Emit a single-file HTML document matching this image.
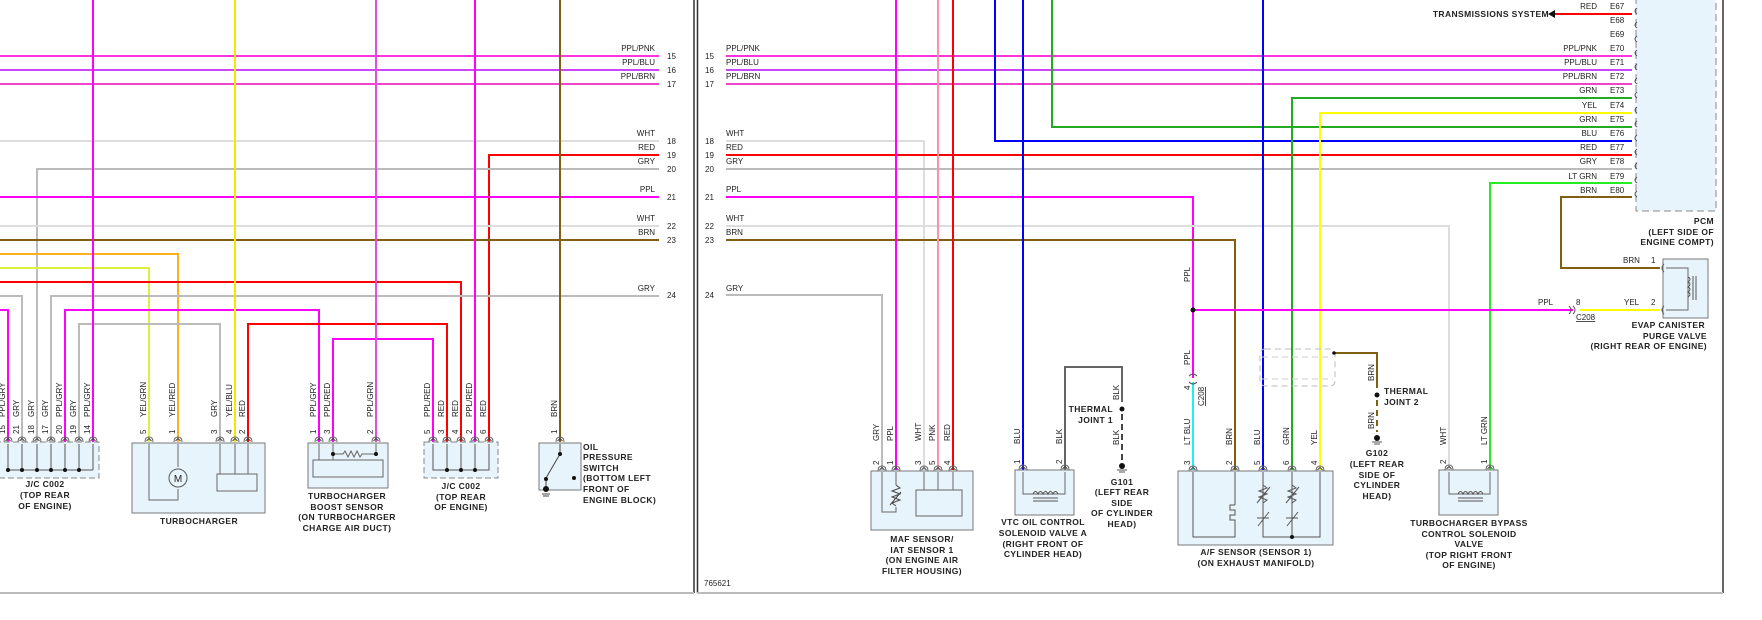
<!DOCTYPE html>
<html><head><meta charset="utf-8"><style>
html,body{margin:0;padding:0;background:#fff}
svg{display:block}
text{font-family:"Liberation Sans",sans-serif;fill:#222}
.s{font-size:8px}
.b{font-size:8.5px;font-weight:bold;letter-spacing:.4px}
</style></head><body>
<svg width="1762" height="620" viewBox="0 0 1762 620" xmlns="http://www.w3.org/2000/svg">
<defs>
<g id="pin"><path d="M-4,5 Q-4,0 0,0 Q4,0 4,5" fill="none" stroke="#666" stroke-width="1"/><path d="M-2.5,4 L0,1.5 L2.5,4" fill="none" stroke="#444" stroke-width="1"/></g>
</defs>
<line x1="694" y1="0" x2="694" y2="593" stroke="#333" stroke-width="1.5"/>
<line x1="697.5" y1="0" x2="697.5" y2="593" stroke="#333" stroke-width="1.5"/>
<line x1="1723" y1="0" x2="1723" y2="593" stroke="#333" stroke-width="1.5"/>
<line x1="697" y1="593" x2="1723" y2="593" stroke="#bbb" stroke-width="2"/>
<line x1="0" y1="593" x2="694" y2="593" stroke="#bbb" stroke-width="2"/>
<text class="s" x="704" y="586">765621</text>

<g fill="none" stroke-width="2">
<line x1="0" y1="56" x2="659" y2="56" stroke="#ff33dd"/>
<line x1="0" y1="70" x2="659" y2="70" stroke="#cc44ff"/>
<line x1="0" y1="84" x2="659" y2="84" stroke="#ee44cc"/>
<line x1="0" y1="141" x2="659" y2="141" stroke="#ddd"/>
<polyline points="489,442 489,155 659,155" stroke="#f00"/>
<polyline points="37,442 37,169 659,169" stroke="#bbb"/>
<line x1="0" y1="197" x2="659" y2="197" stroke="#f0f"/>
<line x1="0" y1="226" x2="659" y2="226" stroke="#ddd"/>
<line x1="0" y1="240" x2="659" y2="240" stroke="#806010"/>
<polyline points="0,254 178,254 178,442" stroke="#ffb020"/>
<polyline points="0,268 149,268 149,442" stroke="#ddf040"/>
<polyline points="0,282 461,282 461,442" stroke="#f00"/>
<polyline points="0,296 22,296 22,442" stroke="#bbb"/>
<polyline points="51,442 51,296 659,296" stroke="#bbb"/>
<polyline points="0,310 8,310 8,442" stroke="#f0f"/>
<polyline points="65,442 65,310 319,310 319,442" stroke="#f0f"/>
<polyline points="79,442 79,324 220,324 220,442" stroke="#bbb"/>
<polyline points="248,442 248,324 447,324 447,442" stroke="#f00"/>
<polyline points="333,442 333,339 433,339 433,442" stroke="#f0f"/>
<line x1="93" y1="0" x2="93" y2="442" stroke="#f0f"/>
<line x1="235" y1="0" x2="235" y2="442" stroke="#f4e800"/>
<line x1="376" y1="0" x2="376" y2="442" stroke="#e050e0"/>
<line x1="475" y1="0" x2="475" y2="442" stroke="#f0f"/>
<line x1="560" y1="0" x2="560" y2="442" stroke="#806010"/>

<line x1="726" y1="56" x2="1632" y2="56" stroke="#ff33dd"/>
<line x1="726" y1="70" x2="1632" y2="70" stroke="#cc44ff"/>
<line x1="726" y1="84" x2="1632" y2="84" stroke="#ee44cc"/>
<polyline points="726,141 924,141 924,470" stroke="#ddd"/>
<line x1="726" y1="155" x2="1632" y2="155" stroke="#f00"/>
<line x1="726" y1="169" x2="1632" y2="169" stroke="#bbb"/>
<polyline points="726,197 1193,197 1193,378" stroke="#f0f"/>
<polyline points="726,226 1449,226 1449,470" stroke="#ddd"/>
<polyline points="726,240 1235,240 1235,470" stroke="#806010"/>
<polyline points="726,295 882,295 882,470" stroke="#bbb"/>
<line x1="896" y1="0" x2="896" y2="470" stroke="#f0f"/>
<line x1="938" y1="0" x2="938" y2="470" stroke="#ff90a8"/>
<line x1="953" y1="0" x2="953" y2="470" stroke="#f00"/>
<polyline points="995,0 995,141 1632,141" stroke="#00f"/>
<line x1="1023" y1="0" x2="1023" y2="470" stroke="#00f"/>
<polyline points="1052,0 1052,127 1632,127" stroke="#2a2"/>
<line x1="1263" y1="0" x2="1263" y2="470" stroke="#00f"/>
<polyline points="1632,98 1292,98 1292,470" stroke="#2a2"/>
<polyline points="1632,113 1320,113 1320,470" stroke="#ff0"/>
<polyline points="1632,183 1490,183 1490,470" stroke="#2e2"/>
<polyline points="1632,197 1561,197 1561,268 1660,268" stroke="#806010"/>
<line x1="1554" y1="14" x2="1632" y2="14" stroke="#f00"/>
<line x1="1193" y1="310" x2="1573" y2="310" stroke="#f0f"/>
<line x1="1580" y1="310" x2="1660" y2="310" stroke="#ff0"/>
<line x1="1193" y1="382" x2="1193" y2="470" stroke="#2ee"/>
<polyline points="1334,353 1377,353 1377,388" stroke="#806010"/>
<polyline points="1065,470 1065,367 1122,367 1122,402" stroke="#666"/>
<line x1="1122" y1="414" x2="1122" y2="460" stroke="#444" stroke-dasharray="6,4"/>
<line x1="1377" y1="400" x2="1377" y2="432" stroke="#806010" stroke-dasharray="6,4"/>
</g>
<path d="M1548,14 L1555,10 L1555,18 Z" fill="#111"/>

<g class="s" text-anchor="end">
<text x="655" y="51">PPL/PNK</text><text x="655" y="65">PPL/BLU</text><text x="655" y="79">PPL/BRN</text>
<text x="655" y="136">WHT</text><text x="655" y="150">RED</text><text x="655" y="164">GRY</text>
<text x="655" y="192">PPL</text><text x="655" y="221">WHT</text><text x="655" y="235">BRN</text><text x="655" y="291">GRY</text>
</g>
<g class="s">
<text x="667" y="59">15</text><text x="667" y="73">16</text><text x="667" y="87">17</text><text x="667" y="144">18</text><text x="667" y="158">19</text><text x="667" y="172">20</text><text x="667" y="200">21</text><text x="667" y="229">22</text><text x="667" y="243">23</text><text x="667" y="298">24</text>
<text x="705" y="59">15</text><text x="705" y="73">16</text><text x="705" y="87">17</text><text x="705" y="144">18</text><text x="705" y="158">19</text><text x="705" y="172">20</text><text x="705" y="200">21</text><text x="705" y="229">22</text><text x="705" y="243">23</text><text x="705" y="298">24</text>
<text x="726" y="51">PPL/PNK</text><text x="726" y="65">PPL/BLU</text><text x="726" y="79">PPL/BRN</text>
<text x="726" y="136">WHT</text><text x="726" y="150">RED</text><text x="726" y="164">GRY</text>
<text x="726" y="192">PPL</text><text x="726" y="221">WHT</text><text x="726" y="235">BRN</text><text x="726" y="291">GRY</text>
</g>

<rect x="1636" y="-5" width="80" height="216" fill="#e8f4fb" stroke="#888" stroke-dasharray="7,4"/>
<g class="s" text-anchor="end">
<text x="1597" y="9">RED</text><text x="1597" y="51">PPL/PNK</text><text x="1597" y="65">PPL/BLU</text><text x="1597" y="79">PPL/BRN</text>
<text x="1597" y="93">GRN</text><text x="1597" y="108">YEL</text><text x="1597" y="122">GRN</text><text x="1597" y="136">BLU</text>
<text x="1597" y="150">RED</text><text x="1597" y="164">GRY</text><text x="1597" y="179">LT GRN</text><text x="1597" y="193">BRN</text>
</g>
<g class="s">
<text x="1610" y="9">E67</text><text x="1610" y="23">E68</text><text x="1610" y="37">E69</text><text x="1610" y="51">E70</text><text x="1610" y="65">E71</text><text x="1610" y="79">E72</text><text x="1610" y="93">E73</text><text x="1610" y="108">E74</text><text x="1610" y="122">E75</text><text x="1610" y="136">E76</text><text x="1610" y="150">E77</text><text x="1610" y="164">E78</text><text x="1610" y="179">E79</text><text x="1610" y="193">E80</text>
</g>
<g fill="none" stroke="#555" stroke-width="1">
<path d="M1637,8 q-4,3 0,6"/><path d="M1637,22 q-4,3 0,6"/><path d="M1637,36 q-4,3 0,6"/><path d="M1637,50 q-4,3 0,6"/><path d="M1637,64 q-4,3 0,6"/><path d="M1637,78 q-4,3 0,6"/><path d="M1637,92 q-4,3 0,6"/><path d="M1637,107 q-4,3 0,6"/><path d="M1637,121 q-4,3 0,6"/><path d="M1637,135 q-4,3 0,6"/><path d="M1637,149 q-4,3 0,6"/><path d="M1637,163 q-4,3 0,6"/><path d="M1637,177 q-4,3 0,6"/><path d="M1637,191 q-4,3 0,6"/>
</g>
<g class="b" text-anchor="end"><text x="1714" y="224">PCM</text><text x="1714" y="235">(LEFT SIDE OF</text><text x="1714" y="245">ENGINE COMPT)</text>
<text x="1549" y="17">TRANSMISSIONS SYSTEM</text></g>

<rect x="1663" y="259" width="45" height="59" fill="#e8f4fb" stroke="#777"/>
<polyline points="1666,268 1688,268 1688,310 1666,310" fill="none" stroke="#666"/>
<path d="M1688,277 q4,2 0,5 q4,2 0,5 q4,2 0,5 q4,2 0,5" fill="none" stroke="#555"/>
<line x1="1693" y1="276" x2="1693" y2="300" stroke="#555"/><line x1="1696" y1="276" x2="1696" y2="300" stroke="#555"/>
<path d="M1664,264 q-4,4 0,8 M1664,306 q-4,4 0,8 M1569,306 q4,4 0,8 M1573,306 q4,4 0,8" fill="none" stroke="#555"/>
<g class="s"><text x="1623" y="263">BRN</text><text x="1651" y="263">1</text><text x="1624" y="305">YEL</text><text x="1651" y="305">2</text>
<text x="1538" y="305">PPL</text><text x="1576" y="305">8</text><text x="1576" y="320" text-decoration="underline">C208</text></g>
<g class="b" text-anchor="end"><text x="1705" y="328">EVAP CANISTER</text><text x="1707" y="339">PURGE VALVE</text><text x="1707" y="349">(RIGHT REAR OF ENGINE)</text></g>

<rect x="-5" y="442" width="104" height="36" fill="#e8f4fb" stroke="#888" stroke-dasharray="6,3"/>
<g fill="none" stroke="#555"><polyline points="8,444 8,470 93,470"/><line x1="22" y1="444" x2="22" y2="470"/><line x1="37" y1="444" x2="37" y2="470"/><line x1="51" y1="444" x2="51" y2="470"/><line x1="65" y1="444" x2="65" y2="470"/><line x1="79" y1="444" x2="79" y2="470"/><line x1="93" y1="444" x2="93" y2="470"/></g>
<g fill="#111"><circle cx="8" cy="470" r="2"/><circle cx="22" cy="470" r="2"/><circle cx="37" cy="470" r="2"/><circle cx="51" cy="470" r="2"/><circle cx="65" cy="470" r="2"/><circle cx="79" cy="470" r="2"/></g>
<g class="b" text-anchor="middle"><text x="45" y="487">J/C C002</text><text x="45" y="498">(TOP REAR</text><text x="45" y="509">OF ENGINE)</text></g>

<rect x="132" y="443" width="133" height="70" fill="#e8f4fb" stroke="#777"/>
<polyline points="149,444 149,500 178,500 178,489" fill="none" stroke="#666"/>
<line x1="178" y1="444" x2="178" y2="467" stroke="#666"/>
<circle cx="178" cy="478" r="9" fill="#e8f4fb" stroke="#555"/><text x="178" y="482" text-anchor="middle" style="font-size:10px">M</text>
<rect x="217" y="474" width="40" height="17" fill="#e8f4fb" stroke="#666"/>
<g stroke="#666"><line x1="220" y1="444" x2="220" y2="474"/><line x1="235" y1="444" x2="235" y2="474"/><line x1="248" y1="444" x2="248" y2="474"/></g>
<text class="b" x="199" y="524" text-anchor="middle">TURBOCHARGER</text>

<rect x="308" y="443" width="80" height="45" fill="#e8f4fb" stroke="#777"/>
<rect x="313" y="460" width="70" height="17" fill="#e8f4fb" stroke="#666"/>
<g stroke="#666" fill="none"><line x1="319" y1="444" x2="319" y2="460"/><line x1="333" y1="444" x2="333" y2="460"/><line x1="376" y1="444" x2="376" y2="454"/>
<path d="M333,454 L343,454 l2,-3 l3,6 l3,-6 l3,6 l3,-6 l3,6 l2,-3 L376,454"/></g>
<circle cx="333" cy="454" r="2" fill="#111"/><circle cx="376" cy="454" r="2" fill="#111"/>
<g class="b" text-anchor="middle"><text x="347" y="499">TURBOCHARGER</text><text x="347" y="510">BOOST SENSOR</text><text x="347" y="520">(ON TURBOCHARGER</text><text x="347" y="531">CHARGE AIR DUCT)</text></g>

<rect x="424" y="442" width="74" height="36" fill="#e8f4fb" stroke="#888" stroke-dasharray="6,3"/>
<g fill="none" stroke="#555"><polyline points="433,444 433,470 489,470 489,444"/><line x1="447" y1="444" x2="447" y2="470"/><line x1="461" y1="444" x2="461" y2="470"/><line x1="475" y1="444" x2="475" y2="470"/></g>
<g fill="#111"><circle cx="447" cy="470" r="2"/><circle cx="461" cy="470" r="2"/><circle cx="475" cy="470" r="2"/></g>
<g class="b" text-anchor="middle"><text x="461" y="489">J/C C002</text><text x="461" y="500">(TOP REAR</text><text x="461" y="510">OF ENGINE)</text></g>

<rect x="539" y="443" width="42" height="47" fill="#e8f4fb" stroke="#777"/>
<g stroke="#444" fill="none"><line x1="560" y1="444" x2="560" y2="454"/><line x1="560" y1="454" x2="546" y2="478"/><line x1="546" y1="478" x2="546" y2="490"/><line x1="542" y1="494" x2="550" y2="494"/><line x1="543" y1="496" x2="549" y2="496"/></g>
<g fill="#111"><circle cx="560" cy="454" r="2"/><circle cx="546" cy="479" r="2"/><circle cx="574" cy="478" r="2"/><circle cx="546" cy="489" r="3"/></g>
<g class="b"><text x="583" y="450">OIL</text><text x="583" y="460">PRESSURE</text><text x="583" y="471">SWITCH</text><text x="583" y="481">(BOTTOM LEFT</text><text x="583" y="492">FRONT OF</text><text x="583" y="503">ENGINE BLOCK)</text></g>

<g>
<use href="#pin" x="8" y="437"/><use href="#pin" x="22" y="437"/><use href="#pin" x="37" y="437"/><use href="#pin" x="51" y="437"/><use href="#pin" x="65" y="437"/><use href="#pin" x="79" y="437"/><use href="#pin" x="93" y="437"/>
<use href="#pin" x="149" y="437"/><use href="#pin" x="178" y="437"/><use href="#pin" x="220" y="437"/><use href="#pin" x="235" y="437"/><use href="#pin" x="248" y="437"/>
<use href="#pin" x="319" y="437"/><use href="#pin" x="333" y="437"/><use href="#pin" x="376" y="437"/>
<use href="#pin" x="433" y="437"/><use href="#pin" x="447" y="437"/><use href="#pin" x="461" y="437"/><use href="#pin" x="475" y="437"/><use href="#pin" x="489" y="437"/><use href="#pin" x="560" y="437"/>
</g>
<g class="s">
<text transform="translate(5,434) rotate(-90)">15</text><text transform="translate(19,434) rotate(-90)">21</text><text transform="translate(34,434) rotate(-90)">18</text><text transform="translate(48,434) rotate(-90)">17</text><text transform="translate(62,434) rotate(-90)">20</text><text transform="translate(76,434) rotate(-90)">19</text><text transform="translate(90,434) rotate(-90)">14</text>
<text transform="translate(146,434) rotate(-90)">5</text><text transform="translate(175,434) rotate(-90)">1</text><text transform="translate(217,434) rotate(-90)">3</text><text transform="translate(232,434) rotate(-90)">4</text><text transform="translate(245,434) rotate(-90)">2</text>
<text transform="translate(316,434) rotate(-90)">1</text><text transform="translate(330,434) rotate(-90)">3</text><text transform="translate(373,434) rotate(-90)">2</text>
<text transform="translate(430,434) rotate(-90)">5</text><text transform="translate(444,434) rotate(-90)">3</text><text transform="translate(458,434) rotate(-90)">4</text><text transform="translate(472,434) rotate(-90)">2</text><text transform="translate(486,434) rotate(-90)">6</text><text transform="translate(557,434) rotate(-90)">1</text>
<text transform="translate(5,417) rotate(-90)">PPL/GRY</text><text transform="translate(19,417) rotate(-90)">GRY</text><text transform="translate(34,417) rotate(-90)">GRY</text><text transform="translate(48,417) rotate(-90)">GRY</text><text transform="translate(62,417) rotate(-90)">PPL/GRY</text><text transform="translate(76,417) rotate(-90)">GRY</text><text transform="translate(90,417) rotate(-90)">PPL/GRY</text>
<text transform="translate(146,417) rotate(-90)">YEL/GRN</text><text transform="translate(175,417) rotate(-90)">YEL/RED</text><text transform="translate(217,417) rotate(-90)">GRY</text><text transform="translate(232,417) rotate(-90)">YEL/BLU</text><text transform="translate(245,417) rotate(-90)">RED</text>
<text transform="translate(316,417) rotate(-90)">PPL/GRY</text><text transform="translate(330,417) rotate(-90)">PPL/RED</text><text transform="translate(373,417) rotate(-90)">PPL/GRN</text>
<text transform="translate(430,417) rotate(-90)">PPL/RED</text><text transform="translate(444,417) rotate(-90)">RED</text><text transform="translate(458,417) rotate(-90)">RED</text><text transform="translate(472,417) rotate(-90)">PPL/RED</text><text transform="translate(486,417) rotate(-90)">RED</text><text transform="translate(557,417) rotate(-90)">BRN</text>
</g>

<rect x="871" y="471" width="102" height="59" fill="#e8f4fb" stroke="#777"/>
<polyline points="882,472 882,512 896,512 896,507" fill="none" stroke="#666"/>
<line x1="896" y1="472" x2="896" y2="485" stroke="#666"/>
<path d="M896,485 l4,3 l-8,3 l8,3 l-8,3 l8,3 l-8,3 l4,3 M890,505 L901,492" fill="none" stroke="#444"/>
<rect x="916" y="490" width="46" height="26" fill="#e8f4fb" stroke="#666"/>
<g stroke="#666"><line x1="924" y1="472" x2="924" y2="490"/><line x1="938" y1="472" x2="938" y2="490"/><line x1="953" y1="472" x2="953" y2="490"/></g>
<g class="b" text-anchor="middle"><text x="922" y="542">MAF SENSOR/</text><text x="922" y="553">IAT SENSOR 1</text><text x="922" y="563">(ON ENGINE AIR</text><text x="922" y="574">FILTER HOUSING)</text></g>

<rect x="1015" y="470" width="59" height="45" fill="#e8f4fb" stroke="#777"/>
<polyline points="1023,472 1023,494 1065,494 1065,472" fill="none" stroke="#666"/>
<path d="M1033,494 q2.5,-5 5,0 q2.5,-5 5,0 q2.5,-5 5,0 q2.5,-5 5,0 q2.5,-5 5,0 M1033,498 h25 M1033,501 h25" fill="none" stroke="#555"/>
<g class="b" text-anchor="middle"><text x="1043" y="525">VTC OIL CONTROL</text><text x="1043" y="536">SOLENOID VALVE A</text><text x="1043" y="547">(RIGHT FRONT OF</text><text x="1043" y="557">CYLINDER HEAD)</text></g>
<circle cx="1122" cy="409" r="2.5" fill="#111"/><circle cx="1122" cy="466" r="3" fill="#111"/>
<path d="M1117,470 h10 M1119,472 h6" stroke="#555"/>
<g class="b" text-anchor="end"><text x="1113" y="412">THERMAL</text><text x="1113" y="423">JOINT 1</text></g>
<g class="b" text-anchor="middle"><text x="1122" y="485">G101</text><text x="1122" y="495">(LEFT REAR</text><text x="1122" y="506">SIDE</text><text x="1122" y="516">OF CYLINDER</text><text x="1122" y="527">HEAD)</text></g>

<circle cx="1193" cy="310" r="2.5" fill="#111"/>
<path d="M1189,376 q4,-4 8,0 M1189,382 q4,4 8,0" fill="none" stroke="#555"/>
<rect x="1260" y="349" width="75" height="37" rx="5" fill="none" stroke="#bbb" stroke-dasharray="6,4"/>
<line x1="1262" y1="357" x2="1333" y2="357" stroke="#ccc" stroke-dasharray="6,4"/>
<line x1="1262" y1="379" x2="1333" y2="379" stroke="#ccc" stroke-dasharray="6,4"/>
<circle cx="1334" cy="353" r="1.8" fill="#111"/>
<rect x="1178" y="471" width="155" height="74" fill="#e8f4fb" stroke="#777"/>
<g fill="none" stroke="#555">
<polyline points="1193,472 1193,537 1235,537 1235,528"/><line x1="1235" y1="472" x2="1235" y2="505"/>
<path d="M1235,505 h-5 v5 h5 v5 h-5 v5 h5 v8"/>
<polyline points="1263,472 1263,537 1320,537 1320,472"/><line x1="1292" y1="472" x2="1292" y2="537"/>
<path d="M1263,485 l4,3 l-8,3 l8,3 l-8,3 l8,3 l-4,3 M1257,503 L1270,487 M1292,485 l4,3 l-8,3 l8,3 l-8,3 l8,3 l-4,3 M1286,503 L1299,487"/>
<path d="M1257,518 h12 M1258,526 L1269,512 M1286,518 h12 M1287,526 L1298,512"/>
</g>
<circle cx="1292" cy="537" r="2" fill="#111"/>
<g class="b" text-anchor="middle"><text x="1256" y="555">A/F SENSOR (SENSOR 1)</text><text x="1256" y="566">(ON EXHAUST MANIFOLD)</text></g>
<circle cx="1377" cy="395" r="2.5" fill="#111"/><circle cx="1377" cy="438" r="3" fill="#111"/>
<path d="M1372,442 h10 M1374,444 h6" stroke="#555"/>
<g class="b"><text x="1384" y="394">THERMAL</text><text x="1384" y="405">JOINT 2</text></g>
<g class="b" text-anchor="middle"><text x="1377" y="456">G102</text><text x="1377" y="467">(LEFT REAR</text><text x="1377" y="478">SIDE OF</text><text x="1377" y="488">CYLINDER</text><text x="1377" y="499">HEAD)</text></g>

<rect x="1439" y="470" width="59" height="45" fill="#e8f4fb" stroke="#777"/>
<polyline points="1449,472 1449,494 1490,494 1490,472" fill="none" stroke="#666"/>
<path d="M1458,494 q2.5,-5 5,0 q2.5,-5 5,0 q2.5,-5 5,0 q2.5,-5 5,0 q2.5,-5 5,0 M1458,498 h25 M1458,501 h25" fill="none" stroke="#555"/>
<g class="b" text-anchor="middle"><text x="1469" y="526">TURBOCHARGER BYPASS</text><text x="1469" y="537">CONTROL SOLENOID</text><text x="1469" y="547">VALVE</text><text x="1469" y="558">(TOP RIGHT FRONT</text><text x="1469" y="568">OF ENGINE)</text></g>

<g>
<use href="#pin" x="882" y="466"/><use href="#pin" x="896" y="466"/><use href="#pin" x="924" y="466"/><use href="#pin" x="938" y="466"/><use href="#pin" x="953" y="466"/>
<use href="#pin" x="1023" y="465"/><use href="#pin" x="1065" y="465"/>
<use href="#pin" x="1193" y="466"/><use href="#pin" x="1235" y="466"/><use href="#pin" x="1263" y="466"/><use href="#pin" x="1292" y="466"/><use href="#pin" x="1320" y="466"/>
<use href="#pin" x="1449" y="465"/><use href="#pin" x="1490" y="465"/>
</g>
<g class="s">
<text transform="translate(879,465) rotate(-90)">2</text><text transform="translate(893,465) rotate(-90)">1</text><text transform="translate(921,465) rotate(-90)">3</text><text transform="translate(935,465) rotate(-90)">5</text><text transform="translate(950,465) rotate(-90)">4</text>
<text transform="translate(1020,464) rotate(-90)">1</text><text transform="translate(1062,464) rotate(-90)">2</text>
<text transform="translate(1190,465) rotate(-90)">3</text><text transform="translate(1232,465) rotate(-90)">2</text><text transform="translate(1260,465) rotate(-90)">5</text><text transform="translate(1289,465) rotate(-90)">6</text><text transform="translate(1317,465) rotate(-90)">4</text>
<text transform="translate(1446,464) rotate(-90)">2</text><text transform="translate(1487,464) rotate(-90)">1</text>
<text transform="translate(879,441) rotate(-90)">GRY</text><text transform="translate(893,441) rotate(-90)">PPL</text><text transform="translate(921,441) rotate(-90)">WHT</text><text transform="translate(935,441) rotate(-90)">PNK</text><text transform="translate(950,441) rotate(-90)">RED</text>
<text transform="translate(1020,444) rotate(-90)">BLU</text><text transform="translate(1062,444) rotate(-90)">BLK</text>
<text transform="translate(1119,400) rotate(-90)">BLK</text><text transform="translate(1119,445) rotate(-90)">BLK</text>
<text transform="translate(1190,445) rotate(-90)">LT BLU</text><text transform="translate(1232,445) rotate(-90)">BRN</text><text transform="translate(1260,445) rotate(-90)">BLU</text><text transform="translate(1289,445) rotate(-90)">GRN</text><text transform="translate(1317,445) rotate(-90)">YEL</text>
<text transform="translate(1190,365) rotate(-90)">PPL</text><text transform="translate(1190,390) rotate(-90)">4</text>
<text transform="translate(1204,406) rotate(-90)" text-decoration="underline">C208</text>
<text transform="translate(1374,381) rotate(-90)">BRN</text><text transform="translate(1374,429) rotate(-90)">BRN</text>
<text transform="translate(1446,445) rotate(-90)">WHT</text><text transform="translate(1487,445) rotate(-90)">LT GRN</text>
<text transform="translate(1190,282) rotate(-90)">PPL</text>
</g>
</svg>
</body></html>
